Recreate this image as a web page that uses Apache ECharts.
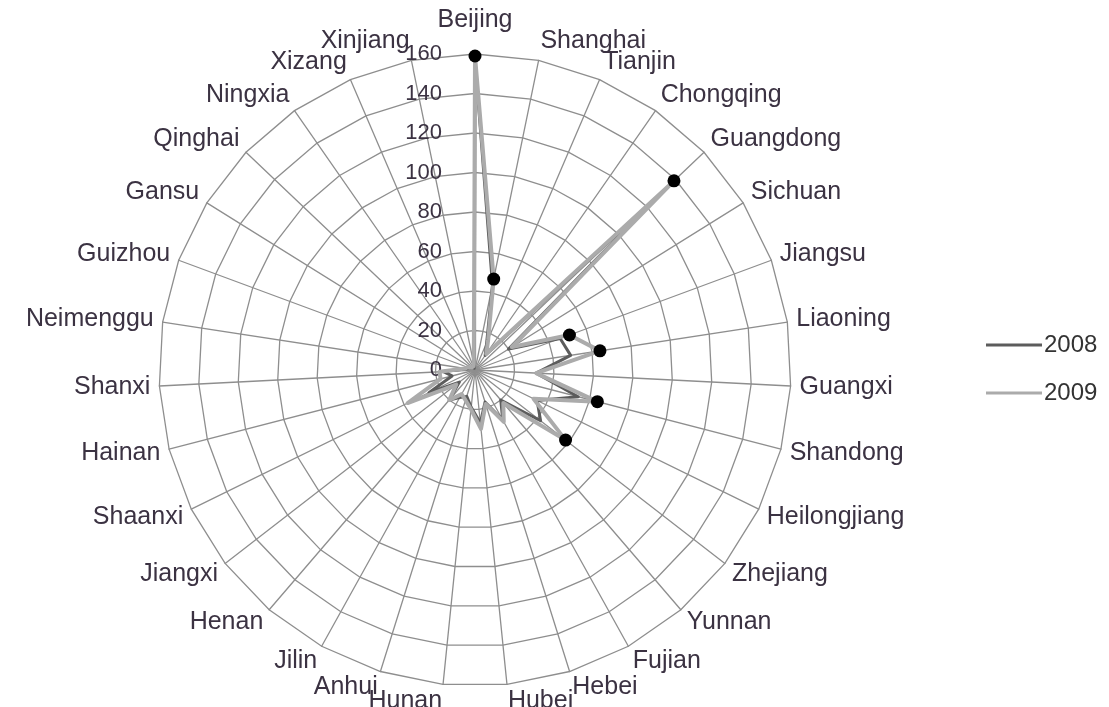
<!DOCTYPE html>
<html>
<head>
<meta charset="utf-8">
<script src="https://cdn.jsdelivr.net/npm/echarts@6/dist/echarts.min.js"></script>
<style>
  html, body { margin: 0; padding: 0; background: #ffffff; }
  #chart { width: 1109px; height: 707px; }
</style>
</head>
<body>
<div id="chart"></div>
<script>
// Provinces, listed clockwise starting at the top spoke
const provinces = [
  'Beijing', 'Shanghai', 'Tianjin', 'Chongqing', 'Guangdong', 'Sichuan', 'Jiangsu',
  'Liaoning', 'Guangxi', 'Shandong', 'Heilongjiang', 'Zhejiang', 'Yunnan', 'Fujian',
  'Hebei', 'Hubei', 'Hunan', 'Anhui', 'Jilin', 'Henan', 'Jiangxi', 'Shaanxi',
  'Hainan', 'Shanxi', 'Neimenggu', 'Guizhou', 'Gansu', 'Qinghai', 'Ningxia',
  'Xizang', 'Xinjiang'
];

const values2008 = [
  157, 44, 15, 9, 128, 20, 46,
  49, 31, 54, 35, 42, 20, 29,
  17, 27, 19, 14, 16, 20, 10, 26,
  12, 16, 4, 4, 3, 2, 2,
  1, 2
];

const values2009 = [
  159, 47, 17, 10, 139, 22, 51,
  64, 31, 64, 33, 58, 22, 30,
  18, 30, 20, 16, 14, 20, 12, 38,
  18, 18, 5, 4, 3, 2, 2,
  2, 3
];

// Provinces whose 2009 value carries a black marker
const markedProvinces = ['Beijing', 'Shanghai', 'Guangdong', 'Jiangsu', 'Liaoning', 'Shandong', 'Zhejiang'];

const seriesNames = ['2008', '2009'];
const scaleMax = 160;
const scaleStep = 20;

// ---- layout / style ----
const CENTER = [475, 370];
const RADIUS = 316;
const FONT = '"Liberation Sans", Arial, sans-serif';
const TEXT_COLOR = '#3b3242';
const GRID_COLOR = '#8e8e8e';
const N = provinces.length;

// ECharts radar runs counter-clockwise, so feed the spokes in reverse after the first
const order = [0].concat(provinces.map((_, i) => i).slice(1).reverse());

// Nudge each name away from the ring vertically, more so near top and bottom
const rich = { n: { fontSize: 25, lineHeight: 26, fontFamily: FONT, color: TEXT_COLOR } };
provinces.forEach((_, i) => {
  const c = Math.cos(i * 2 * Math.PI / N);
  const g = i === 0 ? 12 : Math.round((c > 0 ? 21 : 16) * Math.abs(c));
  rich['g' + i] = { fontSize: 1, lineHeight: Math.max(g, 1) };
});

function nameFormatter(name) {
  const i = provinces.indexOf(name);
  const c = Math.cos(i * 2 * Math.PI / N);
  if (c > 0.05) return '{n|' + name + '}\n{g' + i + '| }';
  if (c < -0.05) return '{g' + i + '| }\n{n|' + name + '}';
  return '{n|' + name + '}';
}

const chart = echarts.init(document.getElementById('chart'), null, { renderer: 'canvas' });

const option = {
  backgroundColor: '#ffffff',
  animation: false,
  textStyle: { fontFamily: FONT },
  legend: {
    data: seriesNames,
    orient: 'vertical',
    left: 981,
    top: 328,
    icon: 'rect',
    itemWidth: 56,
    itemHeight: 3,
    itemGap: 24,
    textStyle: { fontSize: 24, color: '#333333', fontFamily: FONT, padding: [0, 0, 0, -3] }
  },
  radar: {
    center: CENTER,
    radius: RADIUS,
    startAngle: 90,
    splitNumber: scaleMax / scaleStep,
    shape: 'polygon',
    axisNameGap: 9,
    indicator: order.map(i => ({ name: provinces[i], min: 0, max: scaleMax })),
    axisName: {
      formatter: nameFormatter,
      rich: rich,
      color: TEXT_COLOR,
      fontSize: 25,
      fontFamily: FONT
    },
    splitLine: { lineStyle: { color: GRID_COLOR, width: 1.3 } },
    splitArea: { show: false },
    axisLine: { lineStyle: { color: GRID_COLOR, width: 1.3 } },
    axisTick: { show: false },
    axisLabel: { show: false }
  },
  polar: { center: CENTER, radius: RADIUS },
  angleAxis: {
    type: 'value', min: 0, max: N, startAngle: 90, clockwise: true,
    axisLine: { show: false }, axisTick: { show: false },
    axisLabel: { show: false }, splitLine: { show: false }
  },
  radiusAxis: {
    type: 'value', min: 0, max: scaleMax, interval: scaleStep,
    axisLine: { show: false }, axisTick: { show: false }, splitLine: { show: false },
    axisLabel: { show: true, margin: 33, fontSize: 22, color: TEXT_COLOR, fontFamily: FONT }
  },
  series: [
    {
      name: seriesNames[0],
      type: 'radar',
      symbol: 'none',
      itemStyle: { color: '#5c5c5c' },
      lineStyle: { color: '#5c5c5c', width: 3 },
      data: [{ value: order.map(i => values2008[i]), name: seriesNames[0] }],
      z: 3
    },
    {
      name: seriesNames[1],
      type: 'radar',
      symbol: 'none',
      itemStyle: { color: '#ababab' },
      lineStyle: { color: '#ababab', width: 4 },
      data: [{ value: order.map(i => values2009[i]), name: seriesNames[1] }],
      z: 4
    },
    {
      type: 'scatter',
      coordinateSystem: 'polar',
      symbol: 'circle',
      symbolSize: 13,
      itemStyle: { color: '#000000', opacity: 1 },
      data: markedProvinces.map(p => {
        const i = provinces.indexOf(p);
        return [values2009[i], i];
      }),
      z: 5
    }
  ]
};

chart.setOption(option);
</script>
</body>
</html>
